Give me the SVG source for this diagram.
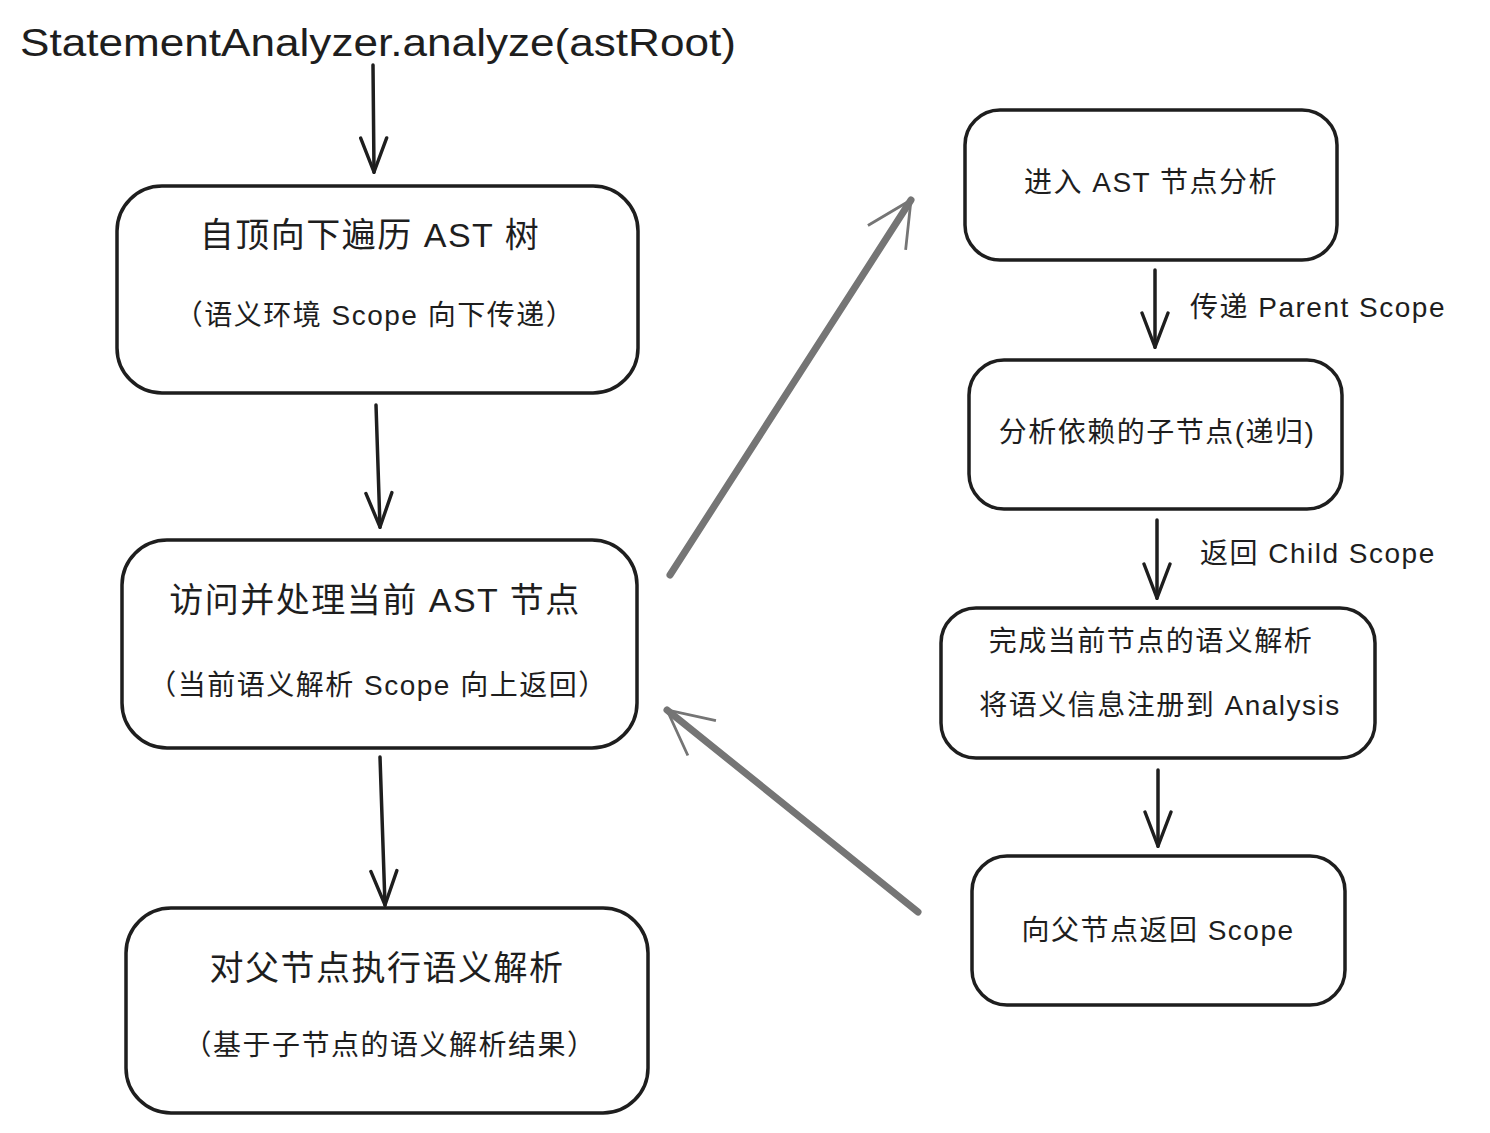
<svg xmlns="http://www.w3.org/2000/svg" width="1490" height="1133" viewBox="0 0 1490 1133">
<defs>
<style>
.box{fill:#fff;stroke:#1e1e1e;stroke-width:3.5}
.t{font-family:"Liberation Sans","Noto Sans CJK SC",sans-serif;fill:#1e1e1e;text-anchor:middle;letter-spacing:1.5px}
.l{font-family:"Liberation Sans","Noto Sans CJK SC",sans-serif;fill:#1e1e1e;letter-spacing:1.5px}
.a{stroke:#1e1e1e;stroke-width:3.5;fill:none;stroke-linecap:round}
.g{stroke:#757575;stroke-width:7;fill:none;stroke-linecap:round}
</style>
<marker id="ah" viewBox="0 0 20 20" refX="19" refY="10" markerWidth="40" markerHeight="40" markerUnits="userSpaceOnUse" orient="auto"><path d="M2,3.5 L19,10 L2,16.5" fill="none" stroke="#1e1e1e" stroke-width="1.7" stroke-linecap="round"/></marker>
<marker id="ahg" viewBox="0 0 20 20" refX="18" refY="10" markerWidth="8" markerHeight="8" orient="auto"><path d="M2,2 L18,10 L2,18" fill="none" stroke="#757575" stroke-width="1"/></marker>
</defs>
<rect width="1490" height="1133" fill="#fff"/>
<text x="20" y="56" font-size="38" textLength="716" lengthAdjust="spacingAndGlyphs" font-family="Liberation Sans, sans-serif" fill="#1e1e1e">StatementAnalyzer.analyze(astRoot)</text>
<g id="connectors">
<line class="a" x1="373" y1="65" x2="374" y2="172" marker-end="url(#ah)"/>
<line class="a" x1="376" y1="405" x2="380" y2="527" marker-end="url(#ah)"/>
<line class="a" x1="380" y1="757" x2="385" y2="905" marker-end="url(#ah)"/>
<line class="a" x1="1155" y1="270" x2="1155" y2="347" marker-end="url(#ah)"/>
<line class="a" x1="1157" y1="520" x2="1157" y2="598" marker-end="url(#ah)"/>
<line class="a" x1="1158" y1="770" x2="1158" y2="846" marker-end="url(#ah)"/>
<line class="g" x1="670" y1="575" x2="911" y2="200" marker-end="url(#ahg)"/>
<line class="g" x1="918" y1="912" x2="667" y2="710" marker-end="url(#ahg)"/>
<text class="l" x="1190" y="317" font-size="28">传递 Parent Scope</text>
<text class="l" x="1200" y="563" font-size="28">返回 Child Scope</text>
</g>
<g id="n1"><rect class="box" x="117" y="186" width="521" height="207" rx="45"/>
<text class="t" x="370" y="247" font-size="34">自顶向下遍历 AST 树</text>
<text class="t" x="375" y="325" font-size="28">（语义环境 Scope 向下传递）</text></g>
<g id="n2"><rect class="box" x="122" y="540" width="515" height="208" rx="45"/>
<text class="t" x="375" y="612" font-size="34">访问并处理当前 AST 节点</text>
<text class="t" x="378" y="695" font-size="28">（当前语义解析 Scope 向上返回）</text></g>
<g id="n3"><rect class="box" x="126" y="908" width="522" height="205" rx="45"/>
<text class="t" x="387" y="980" font-size="34">对父节点执行语义解析</text>
<text class="t" x="390" y="1055" font-size="28">（基于子节点的语义解析结果）</text></g>
<g id="r1"><rect class="box" x="965" y="110" width="372" height="150" rx="35"/>
<text class="t" x="1151" y="192" font-size="28">进入 AST 节点分析</text></g>
<g id="r2"><rect class="box" x="969" y="360" width="373" height="149" rx="35"/>
<text class="t" x="1157" y="442" font-size="28">分析依赖的子节点(递归)</text></g>
<g id="r3"><rect class="box" x="941" y="608" width="434" height="150" rx="35"/>
<text class="t" x="1151" y="651" font-size="28">完成当前节点的语义解析</text>
<text class="t" x="1160" y="715" font-size="28">将语义信息注册到 Analysis</text></g>
<g id="r4"><rect class="box" x="972" y="856" width="373" height="149" rx="35"/>
<text class="t" x="1158" y="940" font-size="28">向父节点返回 Scope</text></g>
</svg>
